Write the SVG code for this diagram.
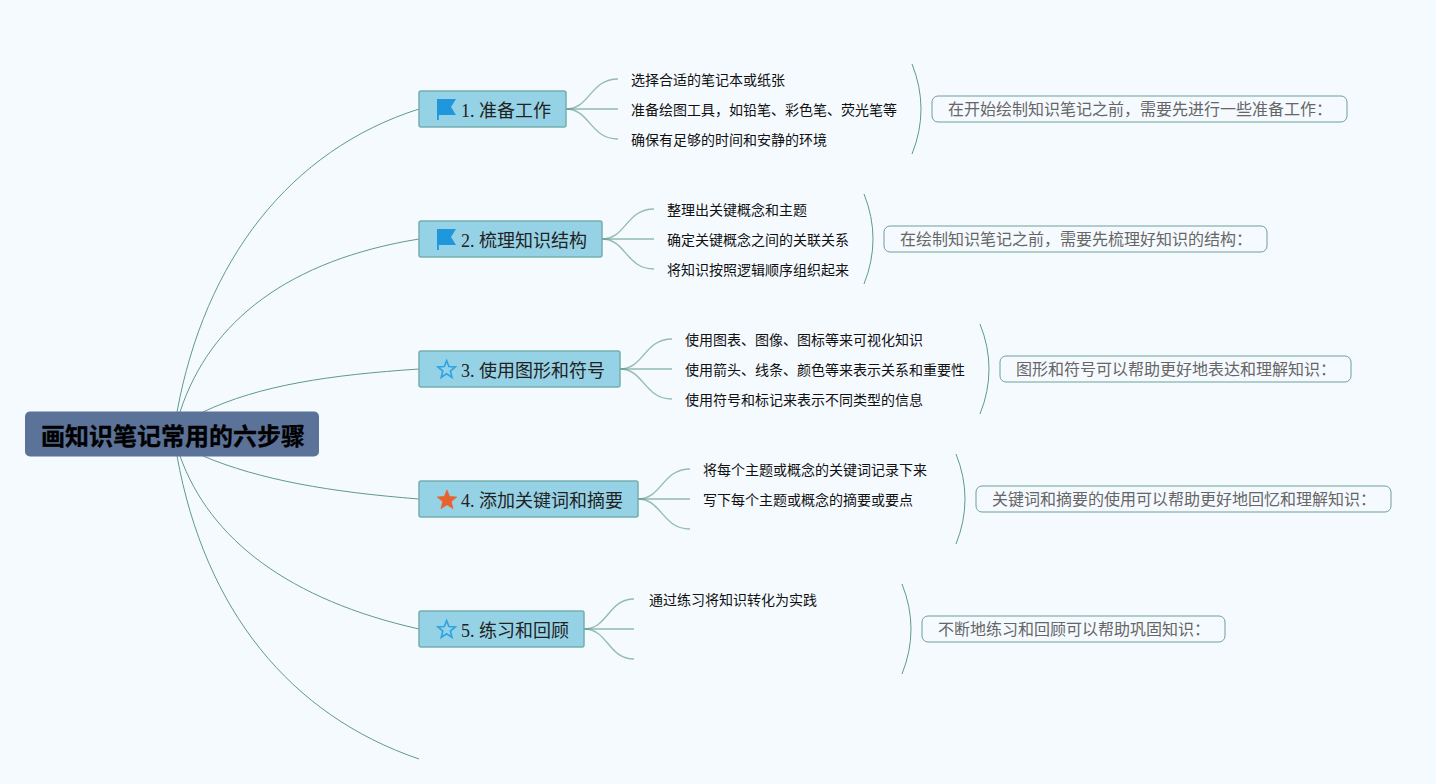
<svg xmlns="http://www.w3.org/2000/svg" width="1436" height="784" viewBox="0 0 1436 784">
<defs>
<polygon id="flag-shape" points="0,0 19,0 14,8 19,16 1.8,16 1.8,21 0,21"/>
<path id="star-shape" d="M10,0 L12.6,6.6 19.7,7.1 14.2,11.6 16,18.6 10,14.7 4,18.6 5.8,11.6 .3,7.1 7.4,6.6Z"/>
</defs>
<style>
text{font-family:"Liberation Serif","Noto Sans CJK SC",serif;fill:#222}
.root{font-size:24px;font-weight:bold;fill:#000;stroke:#000;stroke-width:.3}
.n{font-size:18px}
.s{font-size:14px;fill:#111}
.t{font-size:16px;fill:#666}
.box{fill:#96d2e6;stroke:#74aeae;stroke-width:1.5}
.note{fill:#f5faff;stroke:#6f9f98;stroke-width:1}
.c{fill:none;stroke:#5f9a8c;stroke-width:1}
.b{fill:none;stroke:#5f9a8c;stroke-width:1.4;stroke-opacity:.65}
.h{fill:none;stroke:#5f9a8c;stroke-width:2;stroke-opacity:.5}
.hollow{fill:none;stroke:#2ca4e4;stroke-width:1.8}
</style>
<rect width="1436" height="784" fill="#f5faff"/>
<g id="connectors">
<path class="c" d="M177,412 C205,260 290,150 419,109"/>
<path class="c" d="M180,412 C210,320 290,260 419,239"/>
<path class="c" d="M203,412 C260,385 330,375 419,369"/>
<path class="c" d="M203,456 C260,480 330,492 419,499"/>
<path class="c" d="M180,456 C210,540 290,600 419,629"/>
<path class="c" d="M177,456 C205,610 290,715 419,759"/>
<path class="b" d="M566,109 C590,109 590,79 618,79"/>
<path class="h" d="M566,109 H618"/>
<path class="b" d="M566,109 C590,109 590,139 618,139"/>
<path class="b" d="M602,239 C626,239 626,209 654,209"/>
<path class="h" d="M602,239 H654"/>
<path class="b" d="M602,239 C626,239 626,269 654,269"/>
<path class="b" d="M620,369 C644,369 644,339 672,339"/>
<path class="h" d="M620,369 H672"/>
<path class="b" d="M620,369 C644,369 644,399 672,399"/>
<path class="b" d="M638,499 C662,499 662,469 690,469"/>
<path class="h" d="M638,499 H690"/>
<path class="b" d="M638,499 C662,499 662,529 690,529"/>
<path class="b" d="M584,629 C608,629 608,599 634,599"/>
<path class="h" d="M584,629 H634"/>
<path class="b" d="M584,629 C608,629 608,659 634,659"/>
<path class="c" d="M912,64 Q930,109 912,154"/>
<path class="c" d="M864,194 Q882,239 864,284"/>
<path class="c" d="M980,324 Q998,369 980,414"/>
<path class="c" d="M956,454 Q974,499 956,544"/>
<path class="c" d="M902,584 Q920,629 902,674"/>
</g>
<g id="root"><rect x="25" y="411.5" width="294" height="45" rx="5" fill="#5b7299"/><text class="root" x="41" y="445">画知识笔记常用的六步骤</text></g>
<g id="node1"><rect class="box" x="419" y="91" width="147" height="36" rx="2"/><use href="#flag-shape" x="437" y="99" fill="#1f97dd"/><text class="n" x="461" y="117">1. 准备工作</text></g>
<g id="node2"><rect class="box" x="419" y="221" width="183" height="36" rx="2"/><use href="#flag-shape" x="437" y="229" fill="#1f97dd"/><text class="n" x="461" y="247">2. 梳理知识结构</text></g>
<g id="node3"><rect class="box" x="419" y="351" width="201" height="36" rx="2"/><use href="#star-shape" class="hollow" transform="translate(437.6 360.6) scale(.9)"/><text class="n" x="461" y="377">3. 使用图形和符号</text></g>
<g id="node4"><rect class="box" x="419" y="481" width="219" height="36" rx="2"/><use href="#star-shape" fill="#e8622f" stroke="#e8622f" stroke-width=".8" transform="translate(437 490)"/><text class="n" x="461" y="507">4. 添加关键词和摘要</text></g>
<g id="node5"><rect class="box" x="419" y="611" width="165" height="36" rx="2"/><use href="#star-shape" class="hollow" transform="translate(437.6 620.6) scale(.9)"/><text class="n" x="461" y="637">5. 练习和回顾</text></g>
<g id="items">
<text class="s" x="631" y="85">选择合适的笔记本或纸张</text>
<text class="s" x="631" y="115">准备绘图工具，如铅笔、彩色笔、荧光笔等</text>
<text class="s" x="631" y="145">确保有足够的时间和安静的环境</text>
<text class="s" x="667" y="215">整理出关键概念和主题</text>
<text class="s" x="667" y="245">确定关键概念之间的关联关系</text>
<text class="s" x="667" y="275">将知识按照逻辑顺序组织起来</text>
<text class="s" x="685" y="345">使用图表、图像、图标等来可视化知识</text>
<text class="s" x="685" y="375">使用箭头、线条、颜色等来表示关系和重要性</text>
<text class="s" x="685" y="405">使用符号和标记来表示不同类型的信息</text>
<text class="s" x="703" y="475">将每个主题或概念的关键词记录下来</text>
<text class="s" x="703" y="505">写下每个主题或概念的摘要或要点</text>
<text class="s" x="649" y="605">通过练习将知识转化为实践</text>
</g>
<g id="note1"><rect class="note" x="932" y="96" width="415" height="26" rx="6"/><text class="t" x="948" y="115">在开始绘制知识笔记之前，需要先进行一些准备工作：</text></g>
<g id="note2"><rect class="note" x="884" y="226" width="383" height="26" rx="6"/><text class="t" x="900" y="245">在绘制知识笔记之前，需要先梳理好知识的结构：</text></g>
<g id="note3"><rect class="note" x="1000" y="356" width="351" height="26" rx="6"/><text class="t" x="1016" y="375">图形和符号可以帮助更好地表达和理解知识：</text></g>
<g id="note4"><rect class="note" x="976" y="486" width="415" height="26" rx="6"/><text class="t" x="992" y="505">关键词和摘要的使用可以帮助更好地回忆和理解知识：</text></g>
<g id="note5"><rect class="note" x="922" y="616" width="303" height="26" rx="6"/><text class="t" x="938" y="635">不断地练习和回顾可以帮助巩固知识：</text></g>
</svg>
